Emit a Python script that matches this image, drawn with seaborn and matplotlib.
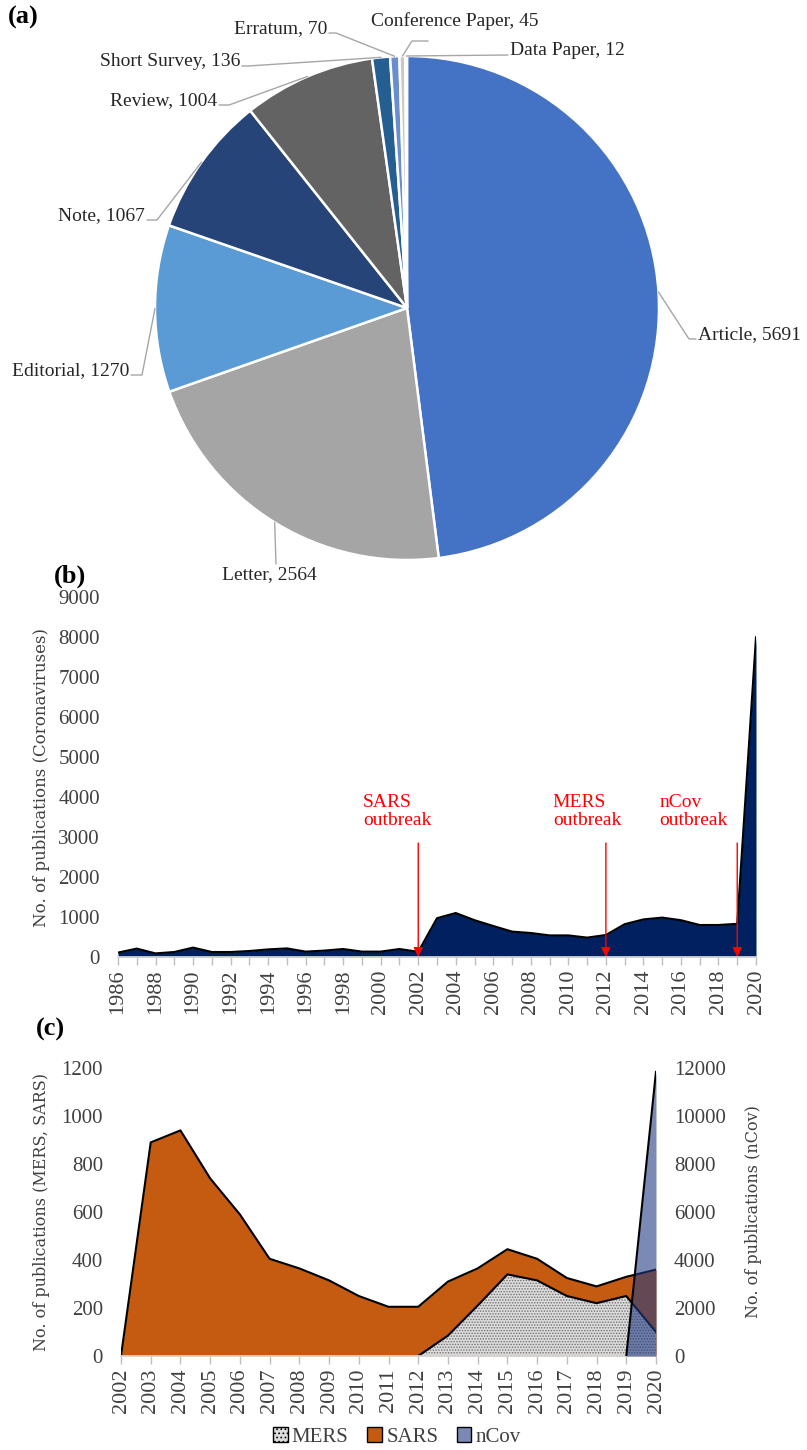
import numpy as np
import pandas as pd
import seaborn as sns
import matplotlib.pyplot as plt
from matplotlib.patches import Patch

# (a) publication types
doc_types = ['Article', 'Letter', 'Editorial', 'Note', 'Review', 'Short Survey',
             'Erratum', 'Conference Paper', 'Data Paper']
doc_counts = [5691, 2564, 1270, 1067, 1004, 136, 70, 45, 12]
doc_colors = ['#4472C4', '#A5A5A5', '#5B9BD5', '#264478', '#636363', '#255E91',
              '#698ED0', '#C9C9C9', '#7CAFDD']

# (b) publications on coronaviruses per year
years_all = list(range(1986, 2021))
pubs_all = [110, 210, 90, 125, 235, 125, 125, 150, 190, 215, 135, 160, 200, 135, 135,
            200, 130, 970, 1100, 920, 775, 635, 600, 540, 540, 485, 550, 820, 940, 985,
            920, 800, 800, 830, 8000]
outbreak_names = ['SARS\noutbreak', 'MERS\noutbreak', 'nCov\noutbreak']
outbreak_years = [2002, 2012, 2019]

# (c) publications per virus
years_c = list(range(2002, 2021))
sars = [0, 890, 940, 740, 590, 405, 365, 315, 250, 205, 205, 310, 365, 445, 405, 325, 290, 330, 360]
mers = [0, 0, 0, 0, 0, 0, 0, 0, 0, 0, 0, 85, 210, 340, 315, 250, 220, 250, 100]
ncov = [0] * 18 + [11850]

sns.set_theme(style='white')
plt.rcParams['font.family'] = ['Liberation Serif', 'DejaVu Serif']
plt.rcParams['hatch.linewidth'] = 0.7
txt_col = '#404040'

W, H = 807, 1450
fig = plt.figure(figsize=(W / 100, H / 100), dpi=100)


def px_axes(l, t, r, b):
    return fig.add_axes([l / W, 1 - b / H, (r - l) / W, (b - t) / H])


def fpx(x, y):
    return (x / W, 1 - y / H)


# ---------------- (a) pie ----------------
cx, cy, R = 407, 308, 252
ax_a = px_axes(cx - R, cy - R, cx + R, cy + R)
wedges, _ = ax_a.pie(doc_counts, colors=doc_colors, startangle=90, counterclock=False,
                     wedgeprops=dict(edgecolor='white', linewidth=1.8))
ax_a.set_xlim(-1, 1)
ax_a.set_ylim(-1, 1)

# label placement (pixels): text anchor, alignment, leader path after the wedge point
label_layout = {
    'Article': ((698, 339), 'left', 'baseline', [(689, 339), (696, 339)]),
    'Letter': ((269, 566), 'center', 'top', [(276, 564)]),
    'Editorial': ((129, 375), 'right', 'baseline', [(142, 375), (131, 375)]),
    'Note': ((145, 220), 'right', 'baseline', [(157, 220), (147, 220)]),
    'Review': ((217, 105), 'right', 'baseline', [(229, 105), (219, 105)]),
    'Short Survey': ((240, 66), 'right', 'baseline', [(248, 66), (242, 66)]),
    'Erratum': ((327, 33), 'right', 'baseline', [(336, 33), (329, 33)]),
    'Conference Paper': ((455, 26), 'center', 'baseline', [(412, 41), (428, 41)]),
    'Data Paper': ((510, 55), 'left', 'baseline', [(508, 55)]),
}
for w, name, n in zip(wedges, doc_types, doc_counts):
    mid = np.deg2rad((w.theta1 + w.theta2) / 2)
    start = (cx + R * np.cos(mid), cy - R * np.sin(mid))
    (tx, ty), ha, va, path = label_layout[name]
    pts = [start] + path
    xs = [p[0] / W for p in pts]
    ys = [1 - p[1] / H for p in pts]
    fig.add_artist(plt.Line2D(xs, ys, color='#A6A6A6', lw=1))
    fig.text(*fpx(tx, ty), f'{name}, {n}', ha=ha, va=va, fontsize=14, color='#262626')

# ---------------- (b) all coronaviruses ----------------
ax_b = px_axes(118, 597, 756, 957)
ax_b.fill_between(years_all, pubs_all, color='#002060', lw=0)
sns.lineplot(x=years_all, y=pubs_all, color='black', lw=1.5, ax=ax_b)
ax_b.set_xlim(1986, 2020)
ax_b.set_ylim(0, 9000)
ax_b.set_yticks(range(0, 9001, 1000))
ax_b.set_xticks(years_all, minor=True)
ax_b.set_xticks(years_all[::2])
ax_b.set_xticklabels([str(y) for y in years_all[::2]], rotation=90)
ax_b.set_ylabel('No. of publications (Coronaviruses)', family='DejaVu Serif',
                fontsize=12, color=txt_col, labelpad=6)

text_off = [(-55, 150), (-53, 150), (-78, 150)]
for name, yr, (dx, dy) in zip(outbreak_names, outbreak_years, text_off):
    ax_b.annotate('', xy=(yr, 0), xytext=(yr, 2850),
                  arrowprops=dict(arrowstyle='-|>', color='red', lw=1, mutation_scale=14,
                                  shrinkA=0, shrinkB=0))
    ax_b.annotate(name, xy=(yr, 2850), xytext=(dx, 14), textcoords='offset pixels',
                  ha='left', va='bottom', color='red', fontsize=14, linespacing=1.05)

# ---------------- (c) SARS / MERS / nCov ----------------
ax_c = px_axes(121, 1068, 656, 1356)
df_c = pd.DataFrame({'year': years_c, 'SARS': sars, 'MERS': mers, 'nCov': ncov})


def keep(s):
    return (s > 0) | (s.shift(-1, fill_value=0) > 0) | (s.shift(1, fill_value=0) > 0)


sars_col = '#C55A11'
ncov_col = (35 / 255, 60 / 255, 130 / 255, 0.6)
mers_face = '#dcdcdc'
ax_c.fill_between(df_c['year'], df_c['SARS'], color=sars_col, lw=0)
k = keep(df_c['SARS'])
sns.lineplot(data=df_c[k], x='year', y='SARS', color='black', lw=1.5, ax=ax_c)
ax_c.fill_between(df_c['year'], df_c['MERS'], facecolor=mers_face, hatch='......',
                  edgecolor='#707070', lw=0)
k = keep(df_c['MERS'])
sns.lineplot(data=df_c[k], x='year', y='MERS', color='black', lw=1.5, ax=ax_c)
ax_c.set_xlim(2002, 2020)
ax_c.set_ylim(0, 1200)
ax_c.set_yticks(range(0, 1201, 200))
ax_c.set_xticks(years_c)
ax_c.set_xticklabels([str(y) for y in years_c], rotation=90)
ax_c.set_ylabel('No. of publications (MERS, SARS)', family='DejaVu Serif',
                fontsize=11.5, color=txt_col, labelpad=8)

ax_n = ax_c.twinx()
ax_n.fill_between(df_c['year'], df_c['nCov'], color=ncov_col, lw=0)
k = keep(df_c['nCov'])
sns.lineplot(data=df_c[k], x='year', y='nCov', color='black', lw=1.5, ax=ax_n)
ax_n.set_ylim(0, 12000)
ax_n.set_yticks(range(0, 12001, 2000))
ax_n.set_ylabel('No. of publications (nCov)', family='DejaVu Serif',
                fontsize=11.5, color=txt_col, labelpad=14)

for ax in (ax_b, ax_c, ax_n):
    sns.despine(ax=ax, left=True, right=True, top=True)
    ax.spines['bottom'].set_color('#D9D9D9')
    ax.grid(False)
    ax.set_xlabel('')
    ax.tick_params(axis='y', length=0, pad=13, labelsize=15, labelcolor=txt_col)
    ax.tick_params(axis='x', which='both', direction='out', length=6, width=1,
                   color='#BFBFBF', pad=3, labelsize=16, labelcolor=txt_col, bottom=True)
ax_n.spines['bottom'].set_visible(False)

handles = [Patch(facecolor=mers_face, hatch='....', edgecolor='black', lw=1),
           Patch(facecolor=sars_col, edgecolor='black', lw=1),
           Patch(facecolor=ncov_col, edgecolor='black', lw=1)]
fig.legend(handles, ['MERS', 'SARS', 'nCov'], loc='center', bbox_to_anchor=fpx(397, 1437),
           ncol=3, frameon=False, fontsize=15, handlelength=0.7, handleheight=0.7,
           handletextpad=0.2, columnspacing=0.9, labelcolor=txt_col)

# panel letters
for lab, (x, y) in zip(['(a)', '(b)', '(c)'], [(8, 6), (54, 565), (36, 1018)]):
    fig.text(*fpx(x, y), lab, fontsize=19, fontweight='bold', ha='left', va='top',
             color='black')

fig.savefig('out.png', dpi=100)
